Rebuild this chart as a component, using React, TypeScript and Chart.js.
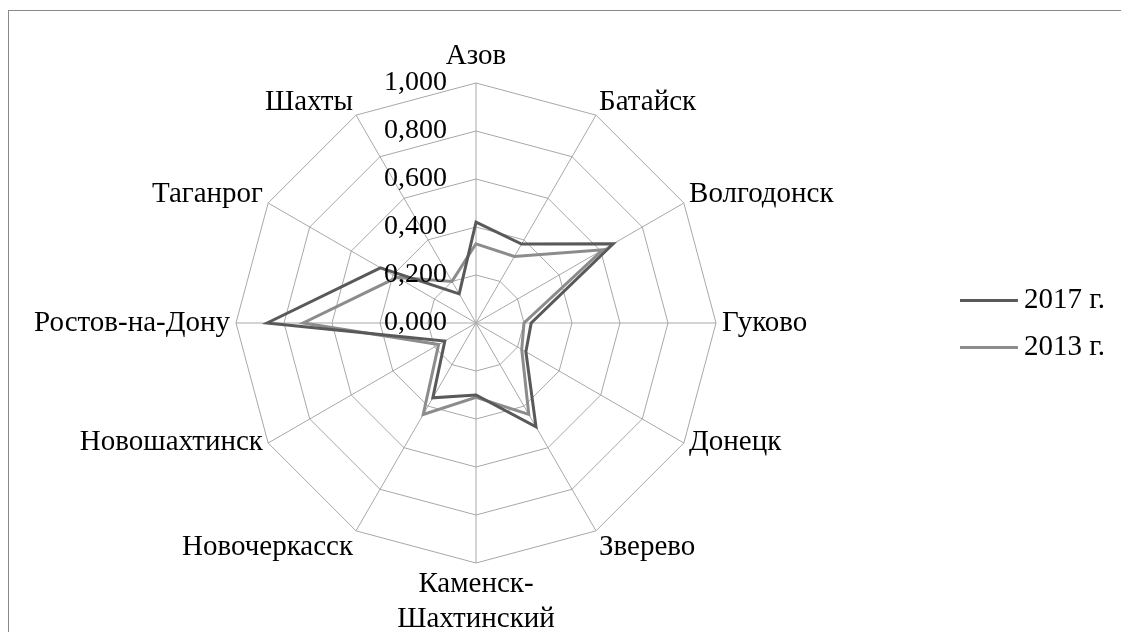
import React, { useEffect, useRef } from 'react';
import { Chart, registerables } from 'chart.js';

Chart.register(...registerables);

const CATEGORIES: (string | string[])[] = [
  'Азов',
  'Батайск',
  'Волгодонск',
  'Гуково',
  'Донецк',
  'Зверево',
  ['Каменск-', 'Шахтинский'],
  'Новочеркасск',
  'Новошахтинск',
  'Ростов-на-Дону',
  'Таганрог',
  'Шахты',
];

const SERIES_NAMES = ['2017 г.', '2013 г.'];
const VALUES_2017 = [0.42, 0.38, 0.66, 0.23, 0.24, 0.5, 0.3, 0.36, 0.15, 0.87, 0.46, 0.14];
const VALUES_2013 = [0.33, 0.32, 0.61, 0.2, 0.22, 0.44, 0.31, 0.44, 0.18, 0.72, 0.38, 0.2];
const TICK_LABELS = ['0,000', '0,200', '0,400', '0,600', '0,800', '1,000'];

const FONT = "'Liberation Serif', 'Times New Roman', serif";
const FS = 29;
const TICK_FS = 28;
const CX = 467;
const CY = 312;
const RADIUS = 240;
const COLORS = ['#595959', '#8c8c8c'];
const GRID = '#a8a8a8';
// vertical nudge of category labels by their angle (Excel-like placement)
const LABEL_SHIFT: Record<number, number> = { 0: -3, 30: 10, 60: 12, 90: 0, 120: -21, 150: -6, 180: -2 };

function legendLine(color: string) {
  const c = document.createElement('canvas');
  c.width = 59;
  c.height = 7;
  const g = c.getContext('2d')!;
  g.strokeStyle = color;
  g.lineWidth = 3;
  g.beginPath();
  g.moveTo(0, 3.5);
  g.lineTo(58, 3.5);
  g.stroke();
  return c;
}

const tickLabelPlugin = {
  id: 'tickLabelPlugin',
  afterDatasetsDraw(chart: any) {
    const s = chart.scales.r;
    const ctx = chart.ctx;
    ctx.save();
    ctx.font = `${TICK_FS}px ${FONT}`;
    ctx.fillStyle = '#000';
    ctx.textAlign = 'right';
    ctx.textBaseline = 'middle';
    s.ticks.forEach((t: any, i: number) => {
      const d = s.getDistanceFromCenterForValue(t.value);
      ctx.fillText(TICK_LABELS[i] ?? '', s.xCenter - 29, s.yCenter - d);
    });
    ctx.restore();
  },
};

export default function App() {
  const ref = useRef<HTMLCanvasElement>(null);
  useEffect(() => {
    const canvas = ref.current!;
    const marks = COLORS.map(legendLine);
    const chart = new Chart(canvas, {
      type: 'radar',
      data: {
        labels: CATEGORIES as any,
        datasets: [
          {
            label: SERIES_NAMES[0],
            data: VALUES_2017,
            borderColor: COLORS[0],
            backgroundColor: COLORS[0],
            borderWidth: 3,
            pointRadius: 0,
            pointHoverRadius: 0,
            fill: false,
          },
          {
            label: SERIES_NAMES[1],
            data: VALUES_2013,
            borderColor: COLORS[1],
            backgroundColor: COLORS[1],
            borderWidth: 3,
            pointRadius: 0,
            pointHoverRadius: 0,
            fill: false,
          },
        ],
      },
      options: {
        responsive: false,
        animation: false,
        events: [],
        layout: { padding: { right: 6 } },
        plugins: {
          tooltip: { enabled: false },
          legend: {
            position: 'right',
            labels: {
              font: { family: FONT, size: FS },
              color: '#000',
              usePointStyle: true,
              pointStyleWidth: 40,
              padding: 18,
              generateLabels(chart: any) {
                const items = Chart.defaults.plugins.legend.labels.generateLabels(chart);
                return items.map((it: any, i: number) => ({ ...it, pointStyle: marks[i] }));
              },
            },
          },
        },
        scales: {
          r: {
            min: 0,
            max: 1,
            ticks: { stepSize: 0.2, display: false, callback: (_v: any, i: number) => TICK_LABELS[i] },
            grid: { color: GRID, lineWidth: 1 },
            angleLines: { color: GRID, lineWidth: 1 },
            pointLabels: {
              font: { family: FONT, size: FS, lineHeight: 1.2 },
              color: '#000',
              padding: 6,
            },
            afterFit(scale: any) {
              scale.xCenter = CX;
              scale.yCenter = CY;
              scale.drawingArea = RADIUS;
              const b = [scale.left, scale.right, scale.top, scale.bottom];
              scale.left = -1e5;
              scale.top = -1e5;
              scale.right = 1e5;
              scale.bottom = 1e5;
              scale.fit();
              [scale.left, scale.right, scale.top, scale.bottom] = b;
              const n = CATEGORIES.length;
              (scale._pointLabelItems || []).forEach((item: any, i: number) => {
                let a = Math.round((360 / n) * i) % 360;
                if (a > 180) a = 360 - a;
                const dy = LABEL_SHIFT[a] ?? 0;
                item.y += dy;
                item.top += dy;
                item.bottom += dy;
              });
            },
          } as any,
        },
      },
      plugins: [tickLabelPlugin],
    });
    return () => chart.destroy();
  }, []);

  return (
    <div
      style={{
        position: 'absolute',
        left: 8,
        top: 10,
        width: 1113,
        height: 622,
        boxSizing: 'border-box',
        borderLeft: '1px solid #898989',
        borderTop: '1px solid #898989',
        overflow: 'hidden',
        background: '#fff',
      }}
    >
      <canvas ref={ref} width={1112} height={626} style={{ display: 'block' }} />
    </div>
  );
}
